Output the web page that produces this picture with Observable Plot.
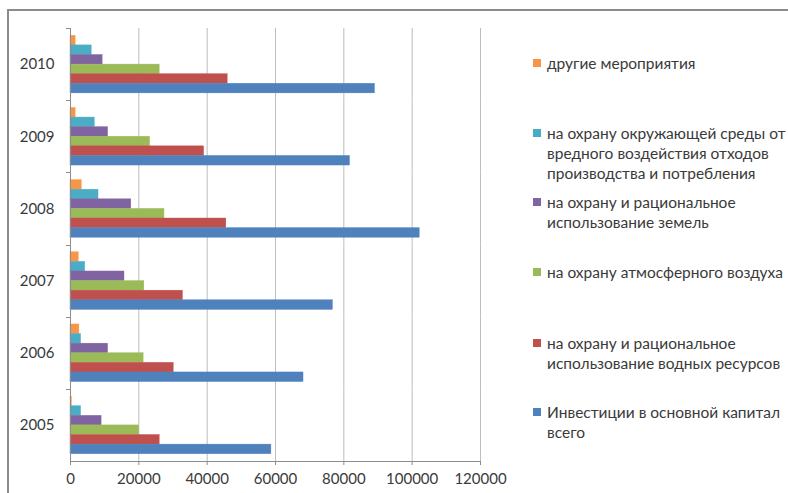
<!DOCTYPE html>
<html>
<head>
<meta charset="utf-8">
<script src="https://cdn.jsdelivr.net/npm/d3@7"></script>
<script src="https://cdn.jsdelivr.net/npm/@observablehq/plot@0.6"></script>
<style>
  html, body { margin: 0; padding: 0; background: #fff; }
  #wrap { position: relative; width: 788px; height: 493px; overflow: hidden;
          font-family: Lato, "Open Sans", "DejaVu Sans", sans-serif; }
  #frame { position: absolute; left: 7px; top: 9px; right: -4px; bottom: -4px;
           border-top: 2px solid #8c8c8c; border-left: 2px solid #8c8c8c; }
  #chart { position: absolute; left: 0; top: 0; }
  .legend { position: absolute; left: 533px; top: 0; font-size: 15.5px; color: #3a3a3a; }
  .item { position: absolute; left: 0; white-space: nowrap; line-height: 20px; }
  .sw { position: absolute; left: 0; top: 6px; width: 8px; height: 8px; }
  .txt { position: absolute; left: 14px; top: 0; }
</style>
</head>
<body>
<div id="wrap">
  <div id="frame"></div>
  <div id="chart"></div>
  <div class="legend" id="legend"></div>
</div>
<script>
// Years (categories) and series labels
const years = ["2005", "2006", "2007", "2008", "2009", "2010"];
const seriesNames = [
  "другие мероприятия",
  "на охрану окружающей среды от вредного воздействия отходов производства и потребления",
  "на охрану и рациональное использование земель",
  "на охрану атмосферного воздуха",
  "на охрану и рациональное использование водных ресурсов",
  "Инвестиции в основной капитал всего"
];
// Legend lines, as wrapped in the legend
const legendLines = [
  ["другие мероприятия"],
  ["на охрану окружающей среды от", "вредного воздействия отходов", "производства и потребления"],
  ["на охрану и рациональное", "использование земель"],
  ["на охрану атмосферного воздуха"],
  ["на охрану и рациональное", "использование водных ресурсов"],
  ["Инвестиции в основной капитал", "всего"]
];
const colors = ["#F79646", "#4BACC6", "#8064A2", "#9BBB59", "#C0504D", "#4F81BD"];

// Values per series, 2005..2010
const other  = [400, 2600, 2400, 3300, 1500, 1500];
const waste  = [3100, 3100, 4300, 8200, 7100, 6200];
const land   = [9100, 11000, 15800, 17800, 11000, 9400];
const air    = [20100, 21400, 21600, 27500, 23300, 26100];
const water  = [26100, 30200, 32900, 45600, 39100, 46000];
const invest = [58800, 68200, 76800, 102200, 81800, 89100];

const xTicks = [0, 20000, 40000, 60000, 80000, 100000, 120000];

const seriesValues = [other, waste, land, air, water, invest];
const rows = [];
seriesNames.forEach((s, i) => {
  years.forEach((y, j) => rows.push({year: y, series: s, value: seriesValues[i][j]}));
});

const chart = Plot.plot({
  width: 788,
  height: 493,
  marginLeft: 70,
  marginRight: 308,
  marginTop: 28,
  marginBottom: 32,
  style: {fontFamily: 'Lato, "Open Sans", "DejaVu Sans", sans-serif', fontSize: "15px", color: "#3a3a3a", background: "transparent"},
  x: {domain: [0, 120000], ticks: xTicks, tickFormat: d => String(d), grid: true, tickSize: 4, tickPadding: 8, label: null},
  y: {domain: seriesNames, axis: null, paddingInner: 0, paddingOuter: 0.76, round: false},
  fy: {domain: years.slice().reverse(), padding: 0, round: false, axis: "left", tickSize: 0, tickPadding: 16, label: null},
  color: {domain: seriesNames, range: colors},
  marks: [
    Plot.barX(rows, {x: "value", y: "series", fy: "year", fill: "series", stroke: "series", strokeWidth: 0.4, insetTop: 0, insetBottom: 0}),
    Plot.ruleX([0], {stroke: "#8c8c8c"})
  ]
});

// Axis styling: gray grid lines, gray axis ticks
const svg = d3.select(chart);
svg.selectAll("[aria-label='x-grid'] line, [aria-label='x-grid'] path").attr("stroke", "#bdbdbd").attr("stroke-opacity", 1);
svg.selectAll("[aria-label='x-axis tick'] path, [aria-label='x-axis tick'] line").attr("stroke", "#8c8c8c");

// Axis line at the bottom and small tick marks at the year band boundaries
const fy = chart.scale("fy");
const x = chart.scale("x");
const x0 = x.apply(0);
const xr = x.apply(120000);
const bottom = 493 - 32;
const g = svg.append("g").attr("stroke", "#8c8c8c");
g.append("line").attr("x1", x0).attr("x2", xr).attr("y1", bottom + 0.5).attr("y2", bottom + 0.5);
years.forEach(y => {
  const top = Math.round(fy.apply(y)) + 0.5;
  g.append("line").attr("x1", x0 - 4).attr("x2", x0).attr("y1", top).attr("y2", top);
});

document.getElementById("chart").appendChild(chart);

// Legend
const legendTops = [53, 123, 192, 262, 333, 402];
const legend = document.getElementById("legend");
legendLines.forEach((lines, i) => {
  const item = document.createElement("div");
  item.className = "item";
  item.style.top = legendTops[i] + "px";
  const sw = document.createElement("div");
  sw.className = "sw";
  sw.style.background = colors[i];
  const txt = document.createElement("div");
  txt.className = "txt";
  txt.innerHTML = lines.join("<br>");
  item.appendChild(sw);
  item.appendChild(txt);
  legend.appendChild(item);
});
</script>
</body>
</html>
